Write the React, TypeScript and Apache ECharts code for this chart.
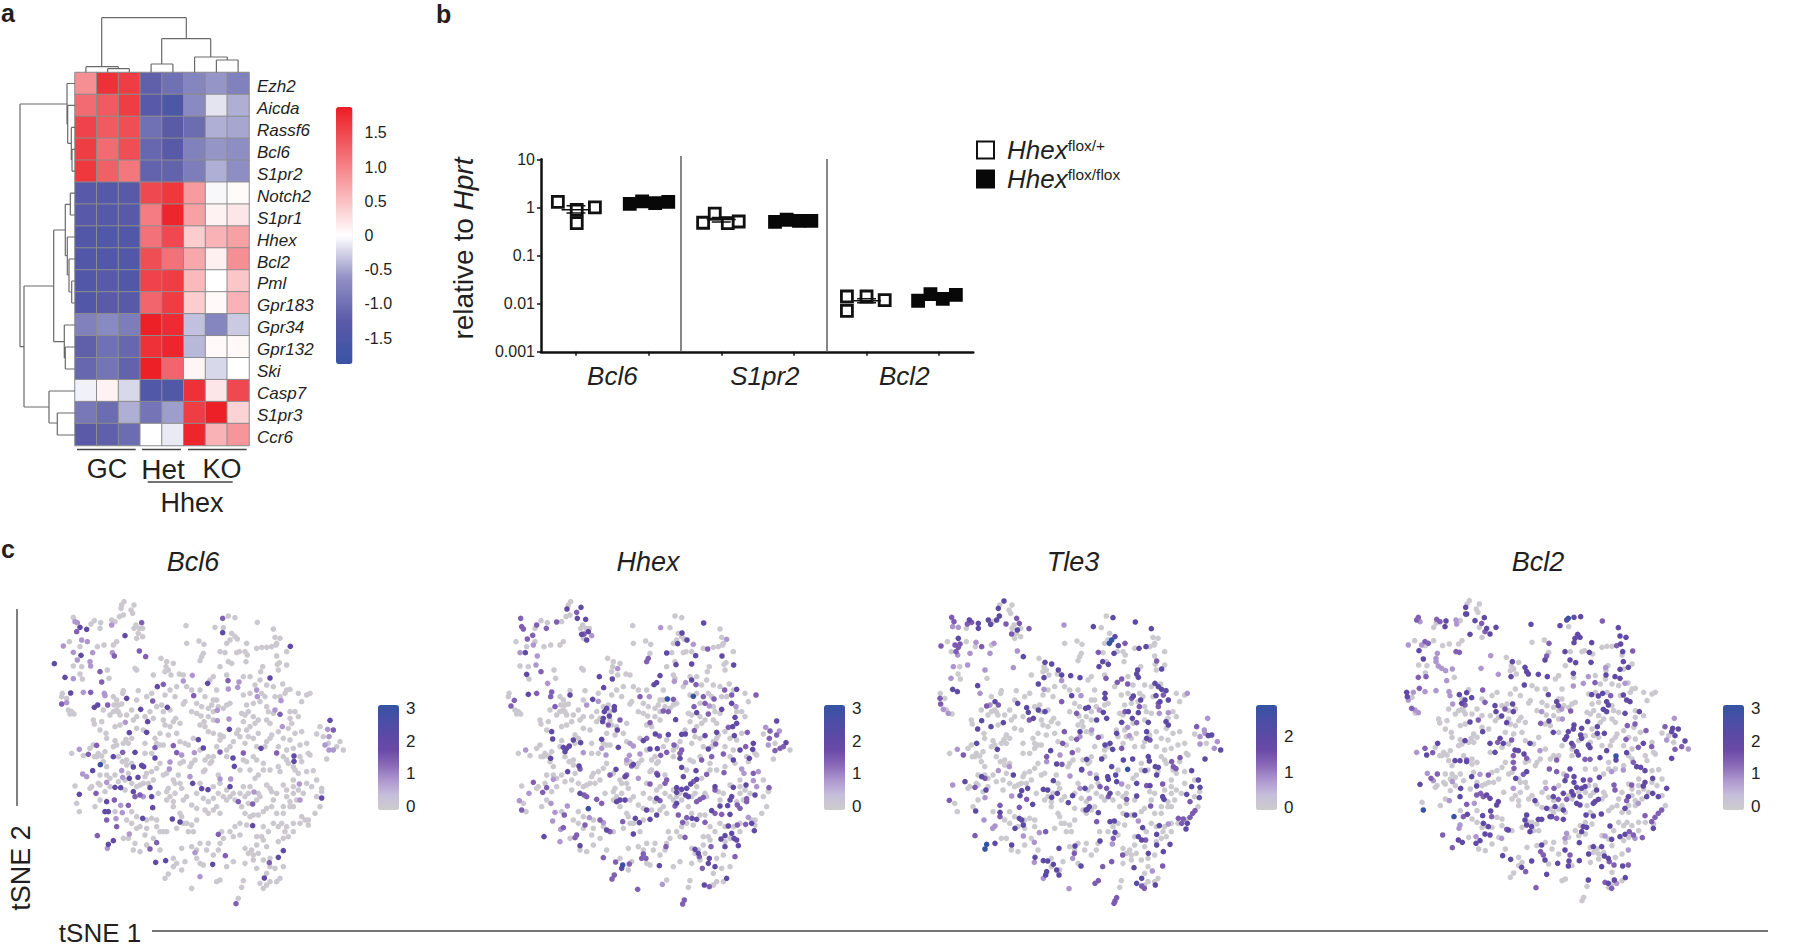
import React, { useEffect, useRef } from "react";
import * as echarts from "echarts";

const FONT = "Liberation Sans";
const INK = "#231f20";

// ---------- panel a ----------
const heatGenes = ["Ezh2","Aicda","Rassf6","Bcl6","S1pr2","Notch2","S1pr1","Hhex","Bcl2","Pml","Gpr183","Gpr34","Gpr132","Ski","Casp7","S1pr3","Ccr6"];
const heatSamples = ["GC 1","GC 2","GC 3","Het 1","Het 2","KO 1","KO 2","KO 3"];
const heatValues = [
  [0.9,1.7,1.6,-1.2,-1.0,-0.75,-0.6,-0.8],
  [1.2,1.35,1.6,-1.3,-1.5,-0.7,-0.15,-0.45],
  [1.55,1.35,1.45,-1.0,-1.25,-1.05,-0.45,-0.5],
  [1.6,1.2,1.45,-1.1,-1.3,-0.8,-0.6,-0.65],
  [1.65,1.3,1.1,-1.15,-1.15,-0.85,-0.45,-0.65],
  [-1.3,-1.35,-1.3,1.5,1.65,0.8,-0.04,0.03],
  [-1.3,-1.35,-1.3,1.05,1.8,0.75,0.1,0.2],
  [-1.4,-1.45,-1.4,1.15,1.5,0.4,0.6,0.75],
  [-1.4,-1.4,-1.4,1.45,1.15,0.7,0.12,0.9],
  [-1.4,-1.3,-1.4,1.55,1.6,0.55,0,0.45],
  [-1.4,-1.25,-1.3,1.25,1.6,0.4,0.05,0.6],
  [-0.8,-0.7,-0.85,1.85,1.75,-0.35,-0.75,-0.3],
  [-1.2,-1.0,-1.1,1.7,1.8,-0.4,0.05,0.05],
  [-1.1,-0.95,-1.15,1.85,1.25,0.08,-0.22,0],
  [-0.08,0.1,-0.22,-1.45,-1.45,1.7,0.2,1.5],
  [-0.9,-1.05,-0.45,-0.95,-0.55,1.6,1.85,0.35],
  [-1.25,-1.2,-1.05,0,-0.12,1.8,0.6,0.85],
];
const heatTicks = [-1.5,-1,-0.5,0,0.5,1,1.5];
// dendrogram links: flat x1,y1,x2,y2 on the figure frame
const topTree = [
  101.7,17.7,186.3,17.7, 101.7,17.7,101.7,66.7, 186.3,17.7,186.3,38.7,
  85.9,66.7,118.3,66.7, 85.9,66.7,85.9,72.5, 118.3,66.7,118.3,68.7,
  107.6,68.7,129.4,68.7, 107.6,68.7,107.6,72.5, 129.4,68.7,129.4,72.5,
  161.7,38.7,210.7,38.7, 161.7,38.7,161.7,64, 210.7,38.7,210.7,57,
  151.1,64,172.9,64, 151.1,64,151.1,72.5, 172.9,64,172.9,72.5,
  194.6,57,227.3,57, 194.6,57,194.6,72.5, 227.3,57,227.3,60,
  216.4,60,238.1,60, 216.4,60,216.4,72.5, 238.1,60,238.1,72.5,
];
const leftTree = [
  20,104,67,104, 20,104,20,346.7, 20,346.7,24,346.7, 24,286,24,407,
  67,83.5,67,124.3, 67,83.5,75,83.5, 67,124.3,67.7,124.3, 67.7,105.4,67.7,143.3, 67.7,105.4,75,105.4,
  67.7,143.3,71.3,143.3, 71.3,127.4,71.3,160, 71.3,127.4,75,127.4, 71.3,160,72,160, 72,149.3,72,171.2, 72,149.3,75,149.3, 72,171.2,75,171.2,
  24,286,53.7,286, 53.7,230,53.7,341.7, 53.7,230,65.3,230, 65.3,204.3,65.3,255.7,
  65.3,204.3,70.3,204.3, 70.3,193.2,70.3,215, 70.3,193.2,75,193.2, 70.3,215,75,215,
  65.3,255.7,67.3,255.7, 67.3,237,67.3,275, 67.3,237,75,237, 67.3,275,69,275, 69,259,69,292, 69,259,75,259,
  69,292,71.7,292, 71.7,281,71.7,303, 71.7,281,75,281, 71.7,303,75,303,
  53.7,341.7,64.3,341.7, 64.3,325,64.3,358, 64.3,325,75,325, 64.3,358,65.3,358, 65.3,347,65.3,369, 65.3,347,75,347, 65.3,369,75,369,
  24,407,49,407, 49,391,49,423, 49,391,75,391, 49,423,57.3,423, 57.3,413,57.3,435, 57.3,413,75,413, 57.3,435,75,435,
];
const groupRules = [77,449.5,135.7,449.5, 142,449.5,181,449.5, 188,449.5,246.7,449.5, 147.7,482,232.7,482];
const sideRules = [17,609,17,806, 152,931,1768,931];
const panelDividers = [681,156,681,352, 827,159,827,352];

// ---------- panel b ----------
const qpcrTicks = [1,2,3,4,5,6];
const qpcrGenes = [{ at: 1.5, name: "Bcl6" },{ at: 3.6, name: "S1pr2" },{ at: 5.52, name: "Bcl2" }];
const hetX = [0.75,1.01,1.01,1.26, 2.75,2.91,3.09,3.24, 4.73,4.73,5,5.25];
const hetY = [1.31,0.47,0.89,1.0, 0.48,0.74,0.47,0.51, 0.0141,0.0071,0.0141,0.0119];
const koX = [1.74,1.91,2.09,2.27, 3.74,3.9,4.07,4.24, 5.71,5.88,6.05,6.23];
const koY = [1.18,1.33,1.23,1.3, 0.5,0.555,0.525,0.525, 0.0115,0.0158,0.0126,0.0153];
const hetMeans = [[1,0.89,1.08,0.765],[3,0.56,0.62,0.5],[5,0.0115,0.0127,0.0104]];

const greyCells = [
 372,215,365,225,363,235,402,225,393,240,398,250,370,255,358,260,345,275,335,270,283,272,273,282,265,295,302,278,300,295,
 408,285,418,295,402,295,428,295,415,310,428,320,410,325,220,262,208,335,265,335,292,350,312,345,340,345,350,335,220,365,240,350,
 245,410,220,408,240,432,247,447,322,420,327,445,405,415,410,420,483,385,500,395,498,410,520,400,505,420,495,425,513,435,538,432,
 550,435,460,435,415,482,370,482,368,490,340,500,350,510,342,525,355,525,365,522,350,540,340,545,355,546,187,490,185,500,200,505,
 205,540,215,545,222,552,210,552,525,500,555,515,550,522,640,510,635,525,650,510,625,535,640,545,655,530,680,525,690,520,670,535,
 460,565,450,575,435,560,450,545,470,530,485,525,490,545,510,540,490,570,495,585,510,590,520,575,527,565,540,580,575,545,590,550,603,558,
 612,575,600,585,615,590,625,605,640,610,660,615,670,620,660,630,280,570,283,582,305,575,300,600,318,610,320,625,345,590,360,585,375,575,400,570,
 385,615,378,628,345,632,350,645,370,640,385,640,395,625,435,640,465,625,470,640,480,645,280,645,270,655,250,677,283,680,295,670,305,678,315,665,
 340,650,310,695,320,710,355,680,367,695,380,690,395,700,380,705,435,670,455,670,470,655,490,645,540,635,555,640,565,645,215,670,225,768,290,680,
 435,740,500,730,490,735,520,750,525,760,535,735,540,760,610,725,615,720,655,735,630,700,615,690,625,680,635,695,575,700,585,690,570,710,540,700,
 550,695,320,735,330,745,315,750,345,735,385,730,375,750,300,735,295,760,270,775,230,820,238,845,275,770,300,765,
 375,780,410,770,430,760,475,790,500,785,525,790,510,800,500,810,520,815,505,775,545,775,575,825,590,835,610,805,625,815,640,805,650,830,640,840,625,850,615,840,660,850,
 680,780,670,800,680,810,690,800,700,790,705,810,720,790,730,770,735,800,745,790,750,770,775,790,780,800,770,810,745,820,725,830,735,850,750,860,760,855,775,855,790,845,800,835,815,830,830,850,
 850,850,870,830,880,830,905,860,915,870,900,880,925,870,945,850,960,830,925,885,880,880,855,905,865,920,850,925,835,890,820,880,790,890,740,885,720,880,705,890,720,915,700,920,690,905,665,905,
 670,925,660,940,655,960,625,940,600,940,575,885,590,870,560,880,565,905,550,880,580,905,530,895,490,905,480,905,500,905,540,850,545,860,470,870,455,865,440,870,420,890,410,895,
 370,925,385,925,405,940,435,915,420,965,545,955,495,1045,505,1032,520,1010,530,1000,545,1020,555,995,590,985,600,1000,610,1005,650,1055,660,1050,575,1075,730,1052,725,1072,
 715,1105,710,1115,770,1015,790,990,810,1010,825,1015,850,1010,800,1030,840,1045,830,1055,810,1055,800,1065,790,1075,780,1060,835,935,790,930,770,920,755,960,760,975,700,995,735,955,745,970,
 558,287,597,333,612,343,560,340,610,370,605,380,600,392,645,292,670,293,685,258,705,263,695,310,705,320,690,330,680,340,740,340,712,327,718,365,735,365,742,375,738,395,772,277,820,297,825,322,830,340,840,325,
 770,355,785,352,800,352,815,350,828,345,860,365,830,378,838,398,832,403,860,405,788,410,782,425,835,420,848,462,860,480,870,478,855,490,840,500,825,500,795,500,785,490,780,515,740,525,760,520,745,545,735,555,725,550,730,495,750,490,
 680,435,685,445,640,440,630,450,660,410,695,400,685,395,660,365,675,368,710,368,930,490,920,495,905,515,870,545,885,545,870,565,875,580,865,595,800,570,810,580,775,570,765,580,750,590,740,600,715,600,710,610,720,620,700,635,690,650,680,660,680,680,
 730,690,740,695,750,720,720,720,765,745,775,735,790,720,810,720,835,710,840,725,860,690,865,700,880,710,885,720,895,730,920,725,940,722,920,760,950,750,935,770,965,775,965,785,950,800,850,765,860,780,800,765,810,775,815,785,
 795,650,810,625,815,615,800,635,770,650,760,625,775,610,860,660,880,655,900,645,920,640,930,675,925,670,905,605,960,590,950,612,970,620,985,640,1010,650,1020,635,1030,660,980,687,
 480,700,470,715,455,725,440,730,460,750,445,760,420,765,395,760,355,755,330,770,315,785,300,810,285,830,345,845,395,845,410,860,380,870,395,880,440,895,470,890,560,800,550,810,520,830,590,790,600,760,640,770,655,790,660,760,630,780,860,800,880,790,880,770,870,815,910,790,890,810,850,830,820,810,830,790,845,880,860,890,880,905,805,905,785,920,770,945,800,950,810,985,830,975,775,970,760,990,735,1000,680,1010,640,975,620,960,590,960,575,950,520,985,480,960,460,925,440,945,400,960,
 650,480,600,480,615,500,590,520,605,530,575,480,560,470,530,470,510,480,495,495,455,490,440,500,410,510,395,540,410,560,380,555,360,555,330,555,310,540,730,575,745,620,735,640,650,650,640,680,600,660,580,625,530,610,505,615,480,610,430,600,410,595,640,570,625,560,710,470,730,440,750,440,780,450,765,465,800,465,820,470,895,490,895,560,820,550,805,545,800,530,760,560,835,605,850,625,870,630,885,610,835,650,850,680,900,680,905,695,790,700,770,690,760,680,880,750,895,780,
];
const bcl6Peak = [301,704];
const bcl6Dark = [240,292,260,298,375,317,243,376,163,401,195,442,212,489,283,532,293,525,380,505,422,538,472,470,623,460,502,532,443,575,440,607,388,608,405,667,340,680,465,684,278,722,400,711,425,706,431,710,388,745,414,742,345,772,362,773,400,785,450,773,455,800,458,833,320,815,315,845,325,845,428,865,340,932,325,943,238,793,467,997,497,992,638,1003,793,1044,835,982,850,962,758,887,540,876,517,867,578,760,605,776,624,779,690,770,965,804,703,709,699,684,610,654,595,629,688,598,783,655,882,678,882,694,810,444,871,349,668,308,990,571];
const bcl6Mid = [425,278,230,305,300,425,343,378,418,363,437,380,305,456,272,487,185,522,323,525,458,513,490,463,581,497,290,646,265,673,368,667,465,653,520,647,530,668,420,795,405,800,343,810,385,826,320,870,350,890,292,917,470,938,450,957,288,790,676,977,708,1121,808,998,655,913,715,815,758,822,730,669,660,666,840,553,830,669,684,452,668,265,1000,600];
const bcl6Light = [335,285,232,278,225,275,245,330,262,335,190,348,220,367,232,390,278,368,270,395,272,408,337,368,220,446,250,487,200,518,313,490,315,497,550,453,577,436,376,577,238,658,365,722,248,732,260,740,368,742,545,675,510,696,508,717,320,757,430,800,362,826,348,866,367,848,388,912,322,955,600,1040,570,740,660,747,692,747,762,786,898,762,900,810,583,668,687,567,652,572,652,541,847,590,843,512,825,540,770,480,772,500,717,456,713,472,685,477,983,598,987,620,975,645,987,660,1000,660,585,968];

const hhexPeak = [712,507,790,499,475,836,578,1005];
const hhexDark = [411,237,453,232,442,265,467,268,455,313,475,305,470,330,821,279,756,309,771,330,743,341,286,368,290,433,710,369,797,377,876,378,738,404,785,402,911,405,508,440,547,447,690,437,785,450,521,473,680,458,672,464,420,495,295,493,920,478,488,508,530,535,553,530,523,545,875,538,905,520,553,540,538,558,520,565,518,575,562,600,800,548,737,569,915,562,920,580,908,590,365,605,1040,573,860,607,676,612,715,614,755,613,766,612,825,617,913,617,368,627,430,630,452,638,515,628,640,632,1068,638,970,640,968,658,930,660,400,652,418,648,405,665,410,655,565,652,660,657,682,656,835,657,958,685,910,690,362,685,750,685,447,708,413,725,610,703,558,718,683,735,798,722,755,712,585,740,760,740,800,748,948,765,855,770,910,772,740,773,755,778,770,775,782,762,450,790,740,787,767,795,775,800,905,800,900,810,975,795,570,810,560,815,585,810,680,805,740,820,870,828,893,827,650,840,845,842,900,853,786,865,800,868,680,855,616,865,660,868,628,878,965,880,895,888,530,900,973,902,610,912,342,920,905,910,885,917,873,927,912,925,920,930,450,947,885,950,925,947,795,958,805,970,838,985,835,1000,575,1015,855,1010,688,1007,890,1045,823,1065];
const hhexMid = [440,247,272,265,275,290,280,297,320,285,349,295,380,276,462,312,292,327,308,316,333,425,655,385,650,395,833,357,798,464,365,486,362,500,320,490,630,500,730,508,820,500,852,507,884,480,905,495,978,495,253,511,243,528,375,530,792,530,825,520,570,570,535,585,700,543,715,545,835,552,660,578,895,592,793,602,1020,603,1040,615,952,607,688,618,650,625,1018,625,1060,650,1050,655,1035,662,947,650,732,645,755,660,750,670,857,642,845,680,710,667,692,676,880,672,815,690,450,717,605,708,680,730,830,733,882,728,970,730,540,735,590,735,790,755,310,757,710,750,705,760,660,762,855,780,350,773,338,787,1017,773,462,795,470,800,820,802,810,808,950,806,950,815,500,808,515,820,690,812,735,828,800,815,922,825,930,835,855,850,875,853,275,840,403,855,745,855,770,863,510,870,825,877,578,875,758,877,947,883,922,885,465,885,400,893,540,905,440,915,435,923,765,922,708,950,843,950,808,980,640,972,635,985,648,985,520,983,915,980,557,996,598,1002,817,1015,553,1035,546,1047,838,1070,623,1078,763,1110,758,1122];
const hhexLight = [485,317,310,345,692,293,790,343,890,328,270,368,322,378,318,405,563,416,353,460,733,454,767,458,658,500,505,514,470,525,838,528,918,530,1007,592,1048,603,600,640,610,648,1015,645,460,668,287,660,515,655,528,675,598,676,630,672,590,690,935,717,942,730,985,725,625,745,370,748,970,752,980,770,297,790,363,820,412,828,268,812,375,847,955,862,478,863,520,878,368,873,392,898,390,935,697,1063];

const tle3Peak = [695,330,688,340,743,718,320,943,315,957];
const tle3Dark = [372,213,355,235,268,270,295,280,295,295,325,270,332,283,350,270,358,258,412,300,640,290,699,263,766,276,814,296,235,325,430,380,495,397,515,402,668,395,685,403,657,410,705,320,715,347,702,370,777,355,798,350,492,443,535,420,545,435,572,437,600,443,773,420,770,432,775,442,845,417,825,460,835,470,845,478,858,482,293,467,218,478,232,485,475,462,675,490,675,505,575,497,760,498,828,497,840,515,865,510,345,515,413,520,782,510,625,532,617,535,440,533,445,547,475,540,495,545,460,565,670,547,745,545,775,548,858,575,865,585,680,565,650,570,757,565,725,577,805,577,985,617,995,615,305,572,333,590,370,578,293,597,600,605,710,610,800,605,800,625,290,640,352,658,690,640,675,645,698,658,512,662,620,688,665,687,730,690,758,687,805,680,808,693,975,687,1022,660,530,702,605,718,695,710,795,722,826,710,835,712,935,722,400,735,255,755,305,740,520,752,650,745,683,740,685,748,707,735,710,755,770,760,830,735,955,750,810,767,935,770,960,772,318,780,425,782,443,775,490,778,503,780,532,790,615,775,690,790,578,797,515,802,420,797,458,823,770,798,848,800,852,808,920,793,958,803,565,818,622,838,628,830,618,840,655,848,287,843,360,847,740,855,764,855,922,880,690,875,703,873,418,865,425,870,430,885,405,895,788,893,838,887,918,897,705,907,775,920,785,930,830,913,660,933,345,940,395,945,870,943,830,945,585,948,537,955,805,970,850,965,465,982,490,992,503,993,520,1003,603,1008,762,1013,500,1025,530,1020,497,1035,537,1035,785,1045,770,1060,826,1065];
const tle3Mid = [215,262,222,275,262,282,275,277,378,282,410,265,418,280,395,312,447,296,305,350,225,345,240,342,235,352,228,365,183,348,655,367,735,340,830,393,678,445,712,457,725,447,743,462,755,505,850,495,835,520,180,505,182,522,320,528,355,525,545,515,778,530,448,570,590,550,735,545,835,530,770,578,950,590,553,605,810,630,590,628,655,622,548,640,725,655,577,668,250,675,500,680,875,695,900,683,880,710,888,716,546,703,605,720,315,745,848,762,800,767,660,770,285,772,680,775,685,800,440,808,208,811,360,826,740,808,930,815,812,828,418,832,945,842,938,850,930,862,910,867,905,880,895,865,650,875,360,860,497,905,285,917,700,925,797,930,728,975,583,970,695,995,668,1010,848,1008,655,1052,645,1060,785,1068,793,1075,710,1103,705,1113,702,1120];
const tle3Light = [218,290,235,292,552,285,288,337,233,375,342,340,330,370,412,363,270,370,263,405,315,420,213,445,220,410,400,413,545,452,300,490,492,478,603,497,922,490,330,525,190,538,205,550,658,540,838,550,865,548,743,592,983,565,973,600,975,610,960,620,635,600,748,617,600,620,540,675,232,658,1012,635,960,642,1003,655,500,695,630,730,355,722,388,710,570,738,725,762,218,765,600,775,628,805,395,798,315,803,775,873,312,870,345,888,338,895,865,882,478,908,430,918,463,937,697,942,578,985,463,997,817,1023,490,1045,567,1076];

const bcl2Peak = [655,265,798,678,220,840,312,860];
const bcl2Dark = [347,232,347,252,288,273,285,290,350,252,375,272,403,263,410,295,420,312,438,292,360,313,543,283,650,270,672,262,692,260,630,287,805,293,810,318,828,322,683,313,690,322,675,325,672,338,725,338,812,342,818,365,585,390,645,365,660,390,677,398,718,367,723,397,820,395,810,418,835,412,768,435,795,440,810,445,207,362,220,387,487,395,525,412,530,425,535,432,565,433,592,440,483,440,523,465,670,430,170,487,172,500,328,494,350,488,365,503,345,510,335,520,595,494,620,515,625,527,725,494,745,498,758,490,770,515,775,525,760,538,770,545,820,495,830,510,825,550,840,515,868,545,435,527,438,545,490,545,488,522,455,558,470,578,597,573,713,575,672,585,670,597,695,595,742,590,360,576,610,607,655,605,650,620,645,628,692,615,695,625,742,610,763,610,398,605,345,632,450,625,460,640,420,640,540,640,715,645,720,653,665,640,880,640,263,640,230,675,435,667,495,660,505,662,522,672,680,665,685,675,770,662,798,690,830,668,750,683,965,685,968,595,985,597,975,617,965,605,1005,633,315,692,330,692,350,695,860,710,872,712,885,722,660,717,365,740,530,725,497,745,908,745,672,740,645,752,700,750,748,742,672,757,885,757,880,768,210,763,332,775,380,768,640,790,665,785,680,772,695,775,705,770,740,780,670,795,690,800,908,790,925,800,950,775,410,795,420,805,445,815,440,825,330,800,610,800,680,820,690,825,735,815,745,808,730,820,835,800,890,800,352,853,422,843,590,835,600,860,615,830,640,840,640,868,555,812,708,855,730,858,754,852,825,835,398,857,400,880,415,890,530,855,525,870,530,885,565,868,575,868,605,860,545,890,540,905,700,890,695,905,710,892,780,888,910,895,475,900,420,915,405,912,810,920,825,913,785,928,325,930,337,937,390,932,378,940,688,938,575,945,645,960,730,950,755,950,585,990,716,972,763,978,775,985,458,977,482,988,545,993,623,1000,657,993,655,1008,688,992,755,1010,818,1008,515,1012,590,1033,826,1043,715,1050,793,1050,775,1060];
const bcl2Mid = [205,262,200,270,260,268,270,275,395,280,405,305,757,273,800,347,848,363,597,340,590,378,225,335,235,340,318,365,328,367,205,442,228,440,735,458,208,475,398,480,405,517,345,525,782,497,185,535,465,537,662,543,572,580,832,587,855,582,385,570,888,602,828,628,443,637,485,630,670,648,865,652,905,650,225,655,248,668,530,685,490,677,620,690,705,688,720,688,945,590,995,650,975,658,490,697,350,690,850,697,598,717,620,725,492,715,243,745,262,732,415,735,520,733,650,738,720,750,792,765,845,765,795,780,612,775,380,795,392,790,400,800,350,823,625,808,650,808,830,812,340,860,620,865,935,840,925,850,915,862,885,857,905,875,425,860,470,898,278,915,838,905,850,915,877,923,307,953,572,965,580,975,660,975,778,995,792,1005,835,1005,527,1025,765,1057,785,1075,558,1073];
const bcl2Light = [210,275,318,270,320,282,767,413,825,460,175,345,215,345,262,370,258,385,258,395,265,408,275,415,287,422,307,417,393,415,422,377,290,452,445,433,715,440,700,460,670,468,190,487,225,485,258,482,297,485,300,497,308,522,175,510,195,540,205,548,575,545,635,537,637,567,200,667,570,662,973,565,950,630,1015,657,785,725,820,720,232,730,250,752,390,733,307,755,490,775,588,775,298,812,373,820,865,820,330,885,327,895,378,920,650,910,855,925,765,918,455,925,645,925,835,960,800,1060];

const expressionLevels = { light: 0.8, mid: 1.4, dark: 2.0, peak: 3.0 };
const genePanels = [
  { gene: "Bcl6", light: bcl6Light, mid: bcl6Mid, dark: bcl6Dark, peak: bcl6Peak, crop: 0, span: 430, dx: 0, dy: 0, titleX: 193, barX: 378, min: -0.1, max: 3.1, ticks: [0,1,2,3] },
  { gene: "Hhex", light: hhexLight, mid: hhexMid, dark: hhexDark, peak: hhexPeak, crop: 430, span: 430, dx: 50, dy: 0, titleX: 648, barX: 824, min: -0.1, max: 3.1, ticks: [0,1,2,3] },
  { gene: "Tle3", light: tle3Light, mid: tle3Mid, dark: tle3Dark, peak: tle3Peak, crop: 880, span: 430, dx: -6, dy: 0, titleX: 1073, barX: 1256, min: -0.06, max: 2.9, ticks: [0,1,2] },
  { gene: "Bcl2", light: bcl2Light, mid: bcl2Mid, dark: bcl2Dark, peak: bcl2Peak, crop: 1350, span: 450, dx: -14, dy: -3, titleX: 1538, barX: 1723, min: -0.1, max: 3.1, ticks: [0,1,2,3] },
];

const segmentsToLine = (flat: number[]) => {
  const out: (number | null)[][] = [];
  for (let i = 0; i < flat.length; i += 4) {
    out.push([flat[i], flat[i + 1]], [flat[i + 2], flat[i + 3]], [null, null]);
  }
  return out;
};

function panelCells(p: (typeof genePanels)[number]) {
  const groups: [number[], number][] = [
    [p.light, expressionLevels.light],
    [p.mid, expressionLevels.mid],
    [p.dark, expressionLevels.dark],
    [p.peak, expressionLevels.peak],
  ];
  const expressed: number[][] = [];
  groups.forEach(([flat, v]) => {
    for (let i = 0; i < flat.length; i += 2) expressed.push([flat[i], flat[i + 1], v]);
  });
  // a cell that expresses the gene is drawn in colour, not also in grey
  const grey: number[][] = [];
  for (let i = 0; i < greyCells.length; i += 2) {
    const x = greyCells[i] + p.dx, y = greyCells[i + 1] + p.dy;
    if (!expressed.some((c) => Math.hypot(c[0] - x, c[1] - y) < 9)) grey.push([x, y, 0]);
  }
  return [...grey, ...expressed];
}

const tsneRamp = ["#cccccc","#c6bedb","#ad96cf","#8a69b8","#6a4aa6","#5a4aa4","#4a4ea5","#3453a4"];
const heatRamp = ["#3953a5","#5a5aa8","#9090c5","#ffffff","#f9b0b3","#f2656c","#ed1c24"];

function buildOption() {
  const grid: any[] = [], xAxis: any[] = [], yAxis: any[] = [], series: any[] = [], visualMap: any[] = [], graphic: any[] = [];
  const addText = (text: string, x: number, y: number, size: number, o: any = {}) =>
    graphic.push({ type: "text", x, y, rotation: o.rotation || 0, z: 20, style: { text, fontFamily: FONT, fontSize: size, fontStyle: o.italic ? "italic" : "normal", fontWeight: o.bold ? "bold" : "normal", fill: INK, textAlign: o.align || "center", textVerticalAlign: "middle" } });

  // panel a: heatmap
  grid.push({ left: 75, top: 72.5, width: 174, height: 373 });
  xAxis.push({ gridIndex: 0, type: "category", data: heatSamples, show: false });
  yAxis.push({ gridIndex: 0, type: "category", data: heatGenes, inverse: true, show: false });
  const cells: number[][] = [];
  heatValues.forEach((row, r) => row.forEach((v, c) => cells.push([c, r, v])));
  series.push({ type: "heatmap", xAxisIndex: 0, yAxisIndex: 0, data: cells, silent: true, progressive: 0, itemStyle: { borderColor: "#8c8c8c", borderWidth: 1 } });
  visualMap.push({ type: "continuous", seriesIndex: 0, dimension: 2, min: -1.88, max: 1.88, left: 336, top: 107, itemWidth: 16.5, itemHeight: 257, padding: 0, calculable: false, hoverLink: false, inRange: { color: heatRamp } });
  // panel a: colour scale axis
  grid.push({ left: 336, top: 107, width: 16.5, height: 257 });
  xAxis.push({ gridIndex: 1, type: "value", show: false, min: 0, max: 1 });
  yAxis.push({ gridIndex: 1, type: "value", position: "right", min: -1.88, max: 1.88, splitLine: { show: false }, axisLine: { show: false }, axisTick: { show: false }, axisLabel: { customValues: heatTicks, margin: 12, fontFamily: FONT, fontSize: 16, color: INK, formatter: (v: number) => (v === 0 ? "0" : v.toFixed(1)) } });

  // panel b
  grid.push({ left: 541, top: 159.3, width: 432.3, height: 192.5 });
  xAxis.push({ gridIndex: 2, type: "value", min: 0.518, max: 6.47, splitLine: { show: false }, axisLine: { lineStyle: { color: "#111", width: 2.5 } }, axisTick: { customValues: qpcrTicks, length: 4, lineStyle: { color: "#111", width: 1.5 } }, axisLabel: { customValues: qpcrGenes.map((g) => g.at), margin: 11, fontFamily: FONT, fontStyle: "italic", fontSize: 26, color: INK, formatter: (v: number) => (qpcrGenes.find((g) => g.at === v) || { name: "" }).name } });
  yAxis.push({ gridIndex: 2, type: "log", logBase: 10, min: 0.001, max: 10, splitLine: { show: false }, minorTick: { show: false }, axisLine: { show: true, lineStyle: { color: "#111", width: 2.5 } }, axisTick: { show: true, length: 4, lineStyle: { color: "#111", width: 1.5 } }, axisLabel: { margin: 6, fontFamily: FONT, fontSize: 16, color: INK, formatter: (v: number) => String(Number(v.toPrecision(1))) }, name: "{t|relative to }{i|Hprt}", nameLocation: "middle", nameGap: 64, nameRotate: 90, nameTextStyle: { padding: [0, 0, 0, 14], rich: { t: { fontFamily: FONT, fontSize: 28, color: INK }, i: { fontFamily: FONT, fontSize: 28, fontStyle: "italic", color: INK } } } });
  const squares = { type: "scatter", xAxisIndex: 2, yAxisIndex: 2, symbol: "rect", symbolSize: 11, silent: true };
  series.push({ ...squares, name: "Hhex flox/+", data: hetX.map((x, i) => [x, hetY[i]]), itemStyle: { color: "#fff", borderColor: "#111", borderWidth: 2.8, opacity: 1 } });
  series.push({ ...squares, name: "Hhex flox/flox", data: koX.map((x, i) => [x, koY[i]]), itemStyle: { color: "#080808", borderColor: "#080808", borderWidth: 2.8, opacity: 1 } });
  const meanLines: (number | null)[][] = [];
  hetMeans.forEach(([x, m, up, lo]) => {
    meanLines.push([x - 0.2, m], [x + 0.2, m], [null, null], [x - 0.13, up], [x + 0.13, up], [null, null], [x - 0.13, lo], [x + 0.13, lo], [null, null]);
  });
  series.push({ type: "line", xAxisIndex: 2, yAxisIndex: 2, data: meanLines, showSymbol: false, silent: true, z: 5, lineStyle: { color: "#111", width: 1.5 } });

  // panel c
  genePanels.forEach((p) => {
    const gi = grid.length;
    grid.push({ left: p.crop, top: 530, width: p.span, height: 417 });
    xAxis.push({ gridIndex: gi, type: "value", show: false, min: 0, max: p.span * 3 });
    yAxis.push({ gridIndex: gi, type: "value", show: false, inverse: true, min: 0, max: 1251 });
    const sIdx = series.length;
    series.push({ type: "scatter", name: p.gene, xAxisIndex: gi, yAxisIndex: gi, data: panelCells(p), symbolSize: 5.6, silent: true, itemStyle: { opacity: 1 } });
    visualMap.push({ type: "continuous", seriesIndex: sIdx, dimension: 2, min: p.min, max: p.max, left: p.barX, top: 705, itemWidth: 21, itemHeight: 105, padding: 0, calculable: false, hoverLink: false, inRange: { color: tsneRamp } });
    const bi = grid.length;
    grid.push({ left: p.barX, top: 705, width: 21, height: 105 });
    xAxis.push({ gridIndex: bi, type: "value", show: false, min: 0, max: 1 });
    yAxis.push({ gridIndex: bi, type: "value", position: "right", min: p.min, max: p.max, z: 10, splitLine: { show: false }, axisLine: { show: false }, axisTick: { show: true, inside: true, length: 4, customValues: p.ticks, lineStyle: { color: "#ffffff", opacity: 0.7 } }, axisLabel: { customValues: p.ticks, margin: 7, fontFamily: FONT, fontSize: 17, color: INK } });
    addText(p.gene, p.titleX, 562, 27, { italic: true });
  });

  // panel a: row names sit a little below the rows they name
  const li = grid.length;
  grid.push({ left: 75, top: 75.5, width: 174, height: 373 });
  xAxis.push({ gridIndex: li, type: "category", data: heatSamples, show: false });
  yAxis.push({ gridIndex: li, type: "category", data: heatGenes, inverse: true, position: "right", axisLine: { show: false }, axisTick: { show: false }, axisLabel: { interval: 0, margin: 8, fontFamily: FONT, fontStyle: "italic", fontSize: 17, color: INK } });

  // figure frame: dendrograms and rules
  const fi = grid.length;
  grid.push({ left: 0, top: 0, width: 1800, height: 947 });
  xAxis.push({ gridIndex: fi, type: "value", show: false, min: 0, max: 1800 });
  yAxis.push({ gridIndex: fi, type: "value", show: false, inverse: true, min: 0, max: 947 });
  const rule = (flat: number[], color: string, width: number) =>
    series.push({ type: "line", xAxisIndex: fi, yAxisIndex: fi, data: segmentsToLine(flat), showSymbol: false, silent: true, animation: false, lineStyle: { color, width } });
  rule(topTree, "#6a6a6a", 1.2);
  rule(leftTree, "#6a6a6a", 1.2);
  rule(groupRules, "#444444", 1.3);
  rule(sideRules, "#4a4a4a", 1.4);
  rule(panelDividers, "#555555", 1.4);

  addText("a", 1, 13, 25, { bold: true, align: "left" });
  addText("b", 436, 14, 25, { bold: true, align: "left" });
  addText("c", 1, 549, 25, { bold: true, align: "left" });
  addText("GC", 107, 469, 27);
  addText("Het", 163, 469, 28);
  addText("KO", 222, 469, 27);
  addText("Hhex", 192, 503, 27);
  addText("tSNE 2", 21, 868, 27, { rotation: Math.PI / 2 });
  addText("tSNE 1", 100, 933, 26);

  const legend = {
    data: ["Hhex flox/+", "Hhex flox/flox"], orient: "vertical", left: 976, top: 137, padding: 0, itemWidth: 17, itemHeight: 17, itemGap: 3, icon: "rect", selectedMode: false,
    formatter: (n: string) => `{i|Hhex}{s|${n.split(" ")[1]}}`,
    textStyle: { rich: { i: { fontFamily: FONT, fontStyle: "italic", fontSize: 26, color: INK, lineHeight: 25, padding: [0, 0, 0, 8] }, s: { fontFamily: FONT, fontSize: 15.5, color: INK, verticalAlign: "top", lineHeight: 25, padding: [0, 0, 8, 0] } } },
  };

  return { animation: false, backgroundColor: "#ffffff", grid, xAxis, yAxis, series, visualMap, graphic, legend, tooltip: { show: false } };
}

export default function App() {
  const ref = useRef<HTMLDivElement>(null);
  useEffect(() => {
    document.body.style.margin = "0";
    const chart = echarts.init(ref.current!, undefined, { renderer: "svg" });
    chart.setOption(buildOption() as any);
    return () => chart.dispose();
  }, []);
  return <div ref={ref} style={{ width: 1800, height: 947, overflow: "hidden" }} />;
}
